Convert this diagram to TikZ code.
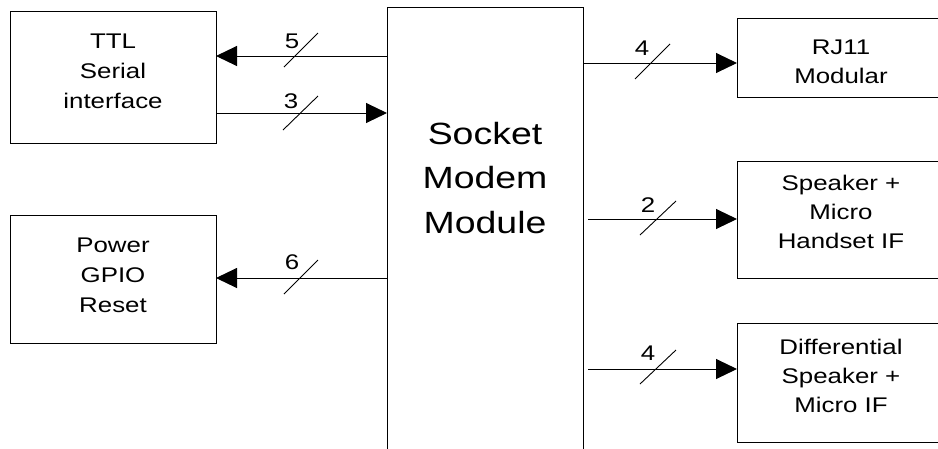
\documentclass[tikz,border=0pt]{standalone}
\usepackage{fontspec}
\setmainfont{Liberation Sans}[FakeStretch=1.22]
\usetikzlibrary{arrows.meta}
\begin{document}
\begin{tikzpicture}[x=1pt,y=-1pt,
  box/.style={draw, line width=1pt, rectangle, inner sep=0pt, outer sep=0pt},
  txt/.style={font=\fontsize{21.2}{30}\selectfont, align=center, anchor=base, inner sep=0pt},
  rtxt/.style={font=\fontsize{21.2}{29}\selectfont, align=center, anchor=base, inner sep=0pt},
  bigtxt/.style={font=\fontsize{30.7}{44.5}\selectfont, align=center, anchor=base, inner sep=0pt},
  num/.style={font=\fontsize{21.2}{25}\selectfont, anchor=base, inner sep=0pt},
  arr/.style={line width=1pt, -{Triangle[length=21pt,width=20pt]}},
  bus/.style={line width=0.9pt}]
\useasboundingbox (0,0) rectangle (938,448);
% boxes
\node[box, minimum width=206pt, minimum height=132pt] (ttl) at (113,77) {};
\node[box, minimum width=206pt, minimum height=128pt] (pwr) at (113,279) {};
\node[box, minimum width=196pt, minimum height=453pt] (mod) at (485,233.5) {};
\node[box, minimum width=208pt, minimum height=79pt] (rj) at (841,57.5) {};
\node[box, minimum width=208pt, minimum height=117pt] (spk) at (841,219.5) {};
\node[box, minimum width=208pt, minimum height=119pt] (dif) at (841,382.5) {};
% texts (base anchor = last line baseline)
\node[txt] (ttlt) at (113,108) {TTL\\Serial\\interface};
\node[txt] (pwrt) at (113,312) {Power\\GPIO\\Reset};
\node[bigtxt] (modt) at (485,233) {Socket\\Modem\\Module};
\node[rtxt] (rjt) at (841,83) {RJ11\\Modular};
\node[rtxt] (spkt) at (841,248) {Speaker +\\Micro\\Handset IF};
\node[rtxt] (dift) at (841,412) {Differential\\Speaker +\\Micro IF};
% connectors
\draw[arr] (mod.west |- 0,56) -- (ttl.east |- 0,56);
\draw[arr] (ttl.east |- 0,113) -- (mod.west |- 0,113);
\draw[arr] (mod.west |- 0,278) -- (pwr.east |- 0,278);
\draw[arr] (mod.east |- 0,63) -- (rj.west |- 0,63);
\draw[arr] ([xshift=5pt]mod.east |- 0,219) -- (spk.west |- 0,219);
\draw[arr] ([xshift=5pt]mod.east |- 0,369) -- (dif.west |- 0,369);
% bus slashes
\draw[bus] (284,67) -- (318,33);
\draw[bus] (283,130) -- (318,96);
\draw[bus] (284,294) -- (318,260);
\draw[bus] (635,79) -- (670,44);
\draw[bus] (640,235) -- (676,201);
\draw[bus] (640,384) -- (676,350);
% bus widths
\node[num] (n5) at (292,48) {5};
\node[num] (n3) at (291,108) {3};
\node[num] (n6) at (292,269) {6};
\node[num] (n4a) at (642,55) {4};
\node[num] (n2) at (648,212) {2};
\node[num] (n4b) at (648,360) {4};
\end{tikzpicture}
\end{document}
